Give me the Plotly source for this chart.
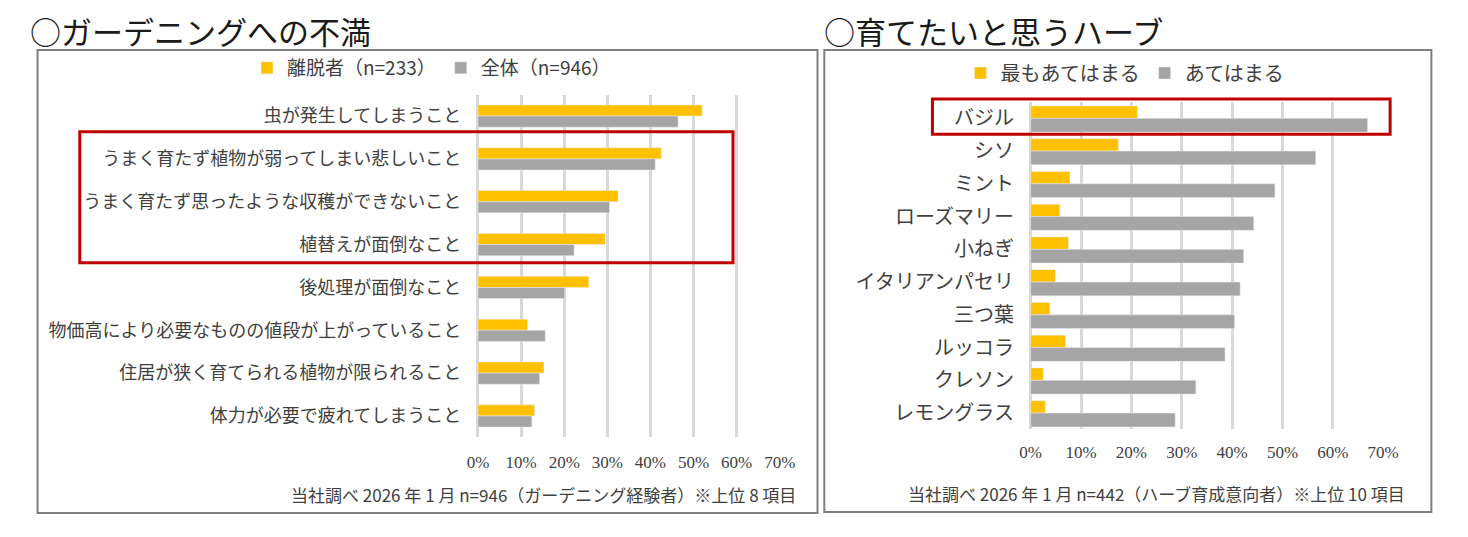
import plotly.graph_objects as go

# ガーデニングへの不満（上位8項目）
dissat_items = [
    "虫が発生してしまうこと",
    "うまく育たず植物が弱ってしまい悲しいこと",
    "うまく育たず思ったような収穫ができないこと",
    "植替えが面倒なこと",
    "後処理が面倒なこと",
    "物価高により必要なものの値段が上がっていること",
    "住居が狭く育てられる植物が限られること",
    "体力が必要で疲れてしまうこと",
]
dropout = [0.520, 0.425, 0.325, 0.295, 0.257, 0.115, 0.153, 0.131]  # 離脱者（n=233）
overall = [0.464, 0.411, 0.305, 0.223, 0.201, 0.156, 0.143, 0.125]  # 全体（n=946）

# 育てたいと思うハーブ（上位10項目）
herbs = ["バジル", "シソ", "ミント", "ローズマリー", "小ねぎ",
         "イタリアンパセリ", "三つ葉", "ルッコラ", "クレソン", "レモングラス"]
most_apply = [0.212, 0.174, 0.078, 0.058, 0.075, 0.049, 0.038, 0.069, 0.025, 0.029]
apply = [0.669, 0.566, 0.485, 0.443, 0.423, 0.416, 0.405, 0.386, 0.328, 0.287]

x_ticks = [0, 0.1, 0.2, 0.3, 0.4, 0.5, 0.6, 0.7]

ORANGE = "#FFC000"
GRAY = "#A5A5A5"
FONT = "Noto Sans CJK JP"

fig = go.Figure()

# 左：ガーデニングへの不満
fig.add_trace(go.Bar(y=dissat_items, x=dropout, orientation="h", name="離脱者（n=233）",
                     marker_color=ORANGE, width=0.26, offset=-0.26,
                     xaxis="x", yaxis="y", legend="legend"))
fig.add_trace(go.Bar(y=dissat_items, x=overall, orientation="h", name="全体（n=946）",
                     marker_color=GRAY, width=0.26, offset=0,
                     xaxis="x", yaxis="y", legend="legend"))

# 右：育てたいと思うハーブ
fig.add_trace(go.Bar(y=herbs, x=most_apply, orientation="h", name="最もあてはまる",
                     marker_color=ORANGE, width=0.38, offset=-0.38,
                     xaxis="x2", yaxis="y2", legend="legend2"))
fig.add_trace(go.Bar(y=herbs, x=apply, orientation="h", name="あてはまる",
                     marker_color=GRAY, width=0.42, offset=0,
                     xaxis="x2", yaxis="y2", legend="legend2"))

xaxis_common = dict(
    range=[-0.0015, 0.7015], tickvals=x_ticks, tickformat=".0%",
    showgrid=True, gridcolor="#D9D9D9", gridwidth=3,
    zeroline=True, zerolinecolor="#D9D9D9", zerolinewidth=3,
    showline=False, ticks="", fixedrange=True,
    tickfont=dict(family="Liberation Serif", size=17, color="#404040"),
)
yaxis_common = dict(autorange="reversed", showgrid=False, showline=False,
                    ticks="", fixedrange=True)

fig.update_layout(
    autosize=True, height=537,
    margin=dict(l=0, r=0, t=0, b=0),
    paper_bgcolor="white", plot_bgcolor="white",
    font=dict(family=FONT, color="#404040"),
    barmode="overlay",
    xaxis=dict(domain=[0.3234, 0.5336], anchor="y", ticklabelstandoff=13, **xaxis_common),
    yaxis=dict(domain=[0.1855, 0.8238], anchor="x", ticklabelstandoff=15,
               tickfont=dict(family=FONT, size=18, color="#404040"), **yaxis_common),
    xaxis2=dict(domain=[0.7066, 0.9521], anchor="y2", ticklabelstandoff=11, **xaxis_common),
    yaxis2=dict(domain=[0.2002, 0.8101], anchor="x2", ticklabelstandoff=15,
                tickfont=dict(family=FONT, size=20, color="#404040"), **yaxis_common),
    legend=dict(orientation="h", x=0.2916, y=0.8734, xanchor="center", yanchor="middle",
                font=dict(family=FONT, size=19, color="#404040"),
                itemwidth=30, bgcolor="rgba(0,0,0,0)"),
    legend2=dict(orientation="h", x=0.7725, y=0.864, xanchor="center", yanchor="middle",
                 font=dict(family=FONT, size=20, color="#404040"),
                 itemwidth=30, bgcolor="rgba(0,0,0,0)"),
    showlegend=True,
)

# 枠線と強調枠
fig.add_shape(type="rect", xref="paper", yref="paper", x0=0.0184, x1=0.5593, y0=0.0447, y1=0.9069,
              line=dict(color="#7F7F7F", width=2))
fig.add_shape(type="rect", xref="paper", yref="paper", x0=0.5640, x1=0.9850, y0=0.0466, y1=0.9069,
              line=dict(color="#7F7F7F", width=2))
fig.add_shape(type="rect", xref="paper", yref="paper", x0=0.0477, x1=0.5007, y0=0.5108, y1=0.7547,
              line=dict(color="#C00000", width=3))
fig.add_shape(type="rect", xref="paper", yref="paper", x0=0.6390, x1=0.9564, y0=0.7499, y1=0.8156,
              line=dict(color="#C00000", width=3))

# タイトル
fig.add_annotation(text="○ガーデニングへの不満", xref="paper", yref="paper", x=0.0120, y=0.9423,
                   xanchor="left", yanchor="middle", showarrow=False,
                   font=dict(family=FONT, size=31, color="#1a1a1a"))
fig.add_annotation(text="○育てたいと思うハーブ", xref="paper", yref="paper", x=0.5625, y=0.9423,
                   xanchor="left", yanchor="middle", showarrow=False,
                   font=dict(family=FONT, size=31, color="#1a1a1a"))

# 注記
fig.add_annotation(text="当社調べ 2026 年 1 月 n=946（ガーデニング経験者）※上位 8 項目",
                   xref="paper", yref="paper", x=0.546, y=0.080, xanchor="right", yanchor="middle",
                   showarrow=False, font=dict(family=FONT, size=17, color="#404040"))
fig.add_annotation(text="当社調べ 2026 年 1 月 n=442（ハーブ育成意向者）※上位 10 項目",
                   xref="paper", yref="paper", x=0.9683, y=0.0819, xanchor="right", yanchor="middle",
                   showarrow=False, font=dict(family=FONT, size=17, color="#404040"))

# ページ余白をなくし、窓幅に合わせて描き直す
fig.write_html(
    "out.html",
    config={"displayModeBar": False},
    post_script=(
        "document.body.style.margin='0';document.body.style.overflow='hidden';"
        "Plotly.Plots.resize(document.getElementById('{plot_id}'));"
    ),
)
